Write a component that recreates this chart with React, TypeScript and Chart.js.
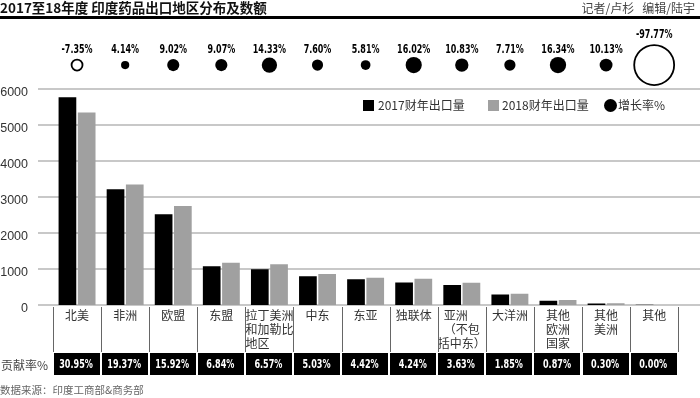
import React, { useEffect, useRef } from "react";
import { Chart, registerables } from "chart.js";

Chart.register(...registerables);

const categories: string[][] = [
  ["北美"],
  ["非洲"],
  ["欧盟"],
  ["东盟"],
  ["拉丁美洲", "和加勒比", "地区　　"],
  ["中东"],
  ["东亚"],
  ["独联体"],
  ["亚洲　", "（不包", "括中东）"],
  ["大洋洲"],
  ["其他", "欧洲", "国家"],
  ["其他", "美洲"],
  ["其他"],
];
const exports2017 = [5770, 3213, 2520, 1075, 991, 800, 715, 628, 557, 290, 120, 45, 4];
const exports2018 = [5345, 3346, 2747, 1173, 1133, 861, 756, 729, 617, 312, 140, 50, 0.09];
const growthRates = [-7.35, 4.14, 9.02, 9.07, 14.33, 7.6, 5.81, 16.02, 10.83, 7.71, 16.34, 10.13, -97.77];
const contributionRates = [30.95, 19.37, 15.92, 6.84, 6.57, 5.03, 4.42, 4.24, 3.63, 1.85, 0.87, 0.3, 0.0];
const yTickValues = [0, 1000, 2000, 3000, 4000, 5000, 6000];

const CJK = '"Noto Sans CJK SC", "Noto Sans", sans-serif';
const LATIN = '"Liberation Sans", Arial, sans-serif';
const NARROW = '"DejaVu Sans Condensed", "DejaVu Sans", sans-serif';

const BUBBLE_ROW = 0.86;
const LABEL_ROW_Y = 50;

function drawNarrow(ctx: any, text: string, x: number, y: number, squeeze: number) {
  ctx.save();
  ctx.translate(x, y);
  ctx.scale(squeeze, 1);
  ctx.fillText(text, 0, 0);
  ctx.restore();
}

function zeroPadding(s: any) {
  s.paddingTop = 0;
  s.paddingBottom = 0;
  s.paddingLeft = 0;
  s.paddingRight = 0;
}

const overlayPlugin = {
  id: "overlay",
  beforeDatasetsDraw(chart: any) {
    const ctx = chart.ctx;
    const y = chart.scales.y;
    ctx.save();
    ctx.strokeStyle = "#c8c8c8";
    ctx.lineWidth = 2;
    for (const t of y.ticks) {
      const py = Math.round(y.getPixelForValue(t.value));
      ctx.beginPath();
      ctx.moveTo(38, py);
      ctx.lineTo(700, py);
      ctx.stroke();
    }
    ctx.restore();
  },
  afterDatasetsDraw(chart: any) {
    const ctx = chart.ctx;
    const meta = chart.getDatasetMeta(2);
    ctx.save();
    ctx.fillStyle = "#000";
    ctx.font = `bold 12px ${NARROW}`;
    ctx.textAlign = "center";
    ctx.textBaseline = "middle";
    meta.data.forEach((el: any, i: number) => {
      const r = el.options.radius;
      const top = el.y - r;
      const ty = top < LABEL_ROW_Y ? top - 10 : LABEL_ROW_Y;
      drawNarrow(ctx, growthRates[i].toFixed(2) + "%", el.x, ty, 0.74);
    });
    ctx.restore();
  },
  afterDraw(chart: any) {
    const ctx = chart.ctx;
    const xs = chart.scales.x;
    const n = categories.length;
    const w = xs.width / n;
    ctx.save();
    ctx.strokeStyle = "#666";
    ctx.lineWidth = 1;
    for (let i = 0; i <= n; i++) {
      const px = Math.round(xs.left + i * w) + 0.5;
      ctx.beginPath();
      ctx.moveTo(px, 307);
      ctx.lineTo(px, 352);
      ctx.stroke();
    }
    ctx.font = `bold 12.5px ${NARROW}`;
    ctx.textAlign = "center";
    ctx.textBaseline = "middle";
    for (let i = 0; i < n; i++) {
      const left = xs.left + i * w;
      ctx.fillStyle = "#000";
      ctx.fillRect(Math.round(left + 0.5), 353, Math.round(w - 2), 22);
      ctx.fillStyle = "#fff";
      drawNarrow(ctx, contributionRates[i].toFixed(2) + "%", left + w / 2 - 1, 364.5, 0.72);
    }
    ctx.restore();
  },
};

export default function App() {
  const ref = useRef<HTMLCanvasElement | null>(null);

  useEffect(() => {
    document.body.style.margin = "0";
    if (!ref.current) return;
    const chart = new Chart(ref.current, {
      type: "bar",
      data: {
        labels: categories,
        datasets: [
          {
            type: "bar",
            label: "2017财年出口量",
            data: exports2017,
            backgroundColor: "#000000",
            xAxisID: "x",
            yAxisID: "y",
            barPercentage: 0.92,
            categoryPercentage: 0.8,
          },
          {
            type: "bar",
            label: "2018财年出口量",
            data: exports2018,
            backgroundColor: "#a0a0a0",
            xAxisID: "x",
            yAxisID: "y",
            barPercentage: 0.92,
            categoryPercentage: 0.8,
          },
          {
            type: "bubble",
            label: "增长率%",
            data: growthRates.map((g, i) => ({ x: i, y: BUBBLE_ROW, r: 2.02 * Math.sqrt(Math.abs(g)) })),
            backgroundColor: growthRates.map((g) => (g < 0 ? "#ffffff" : "#000000")),
            borderColor: "#000000",
            borderWidth: growthRates.map((g) => (g < 0 ? 1.8 : 0)),
            xAxisID: "x",
            yAxisID: "yb",
            clip: false,
          } as any,
        ],
      },
      options: {
        responsive: false,
        animation: false,
        layout: { padding: { top: 26, right: 19, left: 0, bottom: 0 } },
        plugins: { legend: { display: false }, tooltip: { enabled: false } },
        scales: {
          x: {
            type: "category",
            offset: true,
            grid: { display: false, drawTicks: false },
            border: { display: false },
            ticks: {
              autoSkip: false,
              maxRotation: 0,
              minRotation: 0,
              padding: 3,
              color: "#333",
              font: { family: CJK, size: 12, lineHeight: 14 / 12 },
            },
            afterFit: (s: any) => {
              s.height = 93;
              zeroPadding(s);
            },
          },
          y: {
            type: "linear",
            min: 0,
            max: 7750,
            grid: { display: false, drawTicks: false },
            border: { display: false },
            ticks: {
              padding: 25,
              labelOffset: 4,
              color: "#333",
              font: { family: LATIN, size: 12.5 },
              callback: (v: any) => String(v),
            },
            afterBuildTicks: (s: any) => {
              s.ticks = yTickValues.map((v) => ({ value: v }));
            },
            afterFit: (s: any) => {
              s.width = 53;
              zeroPadding(s);
            },
          },
          yb: {
            type: "linear",
            display: false,
            position: "right",
            min: 0,
            max: 1,
            afterFit: (s: any) => zeroPadding(s),
          },
        } as any,
      },
      plugins: [overlayPlugin],
    });
    return () => chart.destroy();
  }, []);

  const legendText: React.CSSProperties = {
    position: "absolute",
    top: 98,
    fontFamily: CJK,
    fontSize: 12,
    lineHeight: "14px",
    color: "#333",
    whiteSpace: "nowrap",
  };

  return (
    <div style={{ position: "relative", width: 700, height: 398, overflow: "hidden", background: "#fff" }}>
      <canvas ref={ref} width={700} height={398} style={{ position: "absolute", left: 0, top: 0 }} />
      <div
        style={{
          position: "absolute",
          left: 0,
          top: 0,
          fontFamily: CJK,
          fontWeight: 700,
          fontSize: 13.5,
          lineHeight: "15px",
          color: "#111",
          whiteSpace: "nowrap",
        }}
      >
        2017至18年度 印度药品出口地区分布及数额
      </div>
      <div
        style={{
          position: "absolute",
          right: 5,
          top: 1,
          fontFamily: CJK,
          fontSize: 12,
          lineHeight: "14px",
          color: "#444",
          whiteSpace: "nowrap",
        }}
      >
        记者/卢杉&nbsp;&nbsp;&nbsp;编辑/陆宇
      </div>
      <div style={{ position: "absolute", left: 0, top: 16, width: 700, height: 3, background: "#000" }} />
      <div style={{ position: "absolute", left: 363, top: 100, width: 11, height: 11, background: "#000" }} />
      <div style={{ ...legendText, left: 378 }}>2017财年出口量</div>
      <div style={{ position: "absolute", left: 488, top: 100, width: 11, height: 11, background: "#a0a0a0" }} />
      <div style={{ ...legendText, left: 502 }}>2018财年出口量</div>
      <div
        style={{ position: "absolute", left: 604, top: 99, width: 13, height: 13, borderRadius: "50%", background: "#000" }}
      />
      <div style={{ ...legendText, left: 618 }}>增长率%</div>
      <div
        style={{
          position: "absolute",
          left: 1,
          top: 357,
          fontFamily: CJK,
          fontSize: 12,
          lineHeight: "15px",
          color: "#444",
          whiteSpace: "nowrap",
        }}
      >
        贡献率%
      </div>
      <div
        style={{
          position: "absolute",
          left: 0,
          top: 383,
          fontFamily: CJK,
          fontSize: 10.5,
          lineHeight: "14px",
          color: "#666",
          whiteSpace: "nowrap",
        }}
      >
        数据来源：印度工商部&amp;商务部
      </div>
    </div>
  );
}
